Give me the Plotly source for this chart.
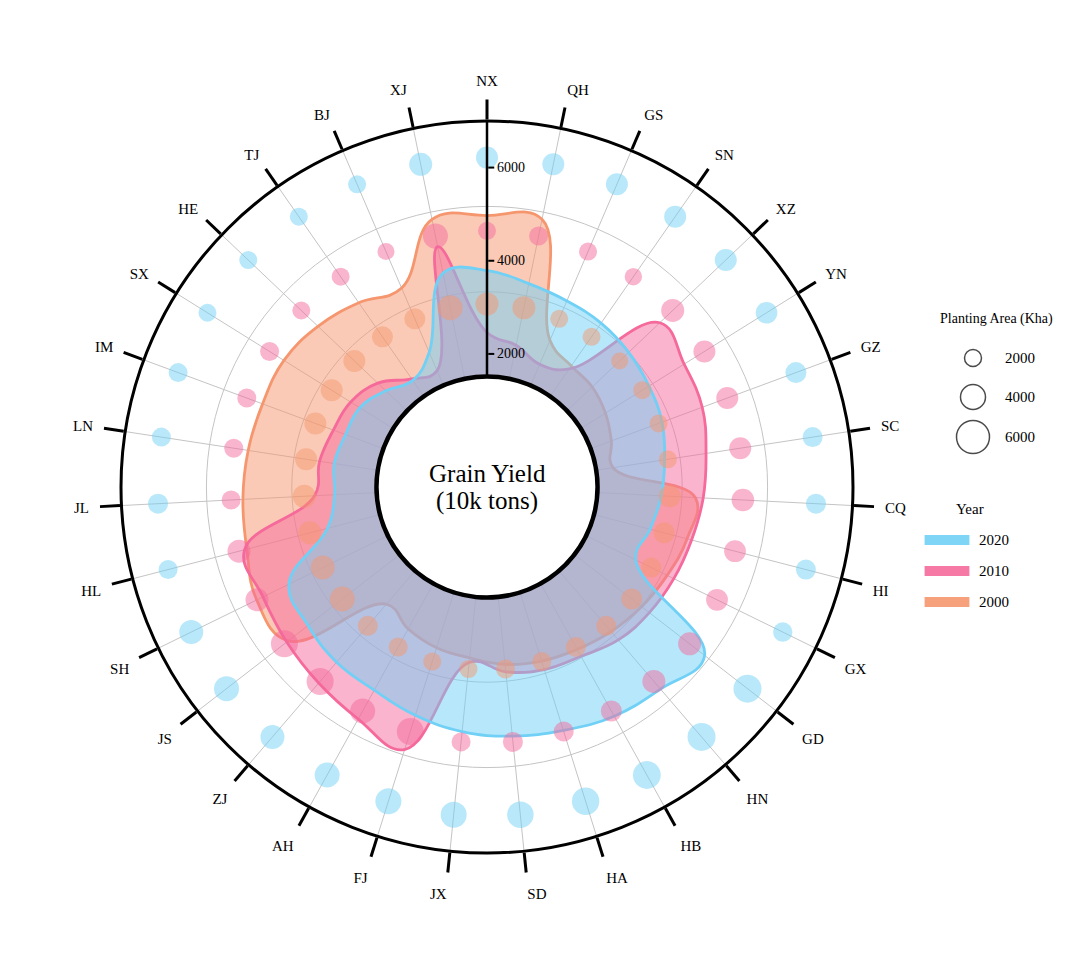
import numpy as np
import plotly.graph_objects as go

provinces = ["NX", "QH", "GS", "SN", "XZ", "YN", "GZ", "SC", "CQ", "HI", "GX",
             "GD", "HN", "HB", "HA", "SD", "JX", "FJ", "AH", "ZJ", "JS", "SH",
             "HL", "JL", "LN", "IM", "SX", "HE", "TJ", "BJ", "XJ"]

# grain yield (10k tons)
yield_2000 = [4970, 5010, 2570, 2310, 2260, 2140, 1990, 1880, 3620, 3580, 3450,
              3340, 3230, 3130, 3060, 2970, 2830, 2760, 2630, 2460, 4540, 4650,
              4470, 4390, 4330, 4280, 4280, 4150, 3960, 3790, 5010]
yield_2010 = [2460, 2250, 2010, 2230, 4260, 4130, 4070, 3900, 3790, 3680, 3610,
              3550, 3470, 3300, 3250, 3130, 2930, 5050, 4840, 4690, 4580, 4500,
              4520, 2850, 2780, 2660, 2590, 2380, 1970, 1860, 4410]
yield_2020 = [3790, 3600, 3490, 3430, 3340, 3240, 3150, 3000, 2890, 2760, 2700,
              5050, 4860, 4770, 4620, 4520, 4420, 4280, 4130, 4100, 4000, 3880,
              2680, 2420, 2460, 2380, 2360, 2140, 1930, 2290, 3830]

# planting area (Kha)
area_2000 = [3500, 3500, 2250, 2250, 2000, 2250, 2250, 2250, 3250, 3000, 2750,
             3000, 2750, 2750, 2500, 2500, 2250, 2250, 2500, 2750, 4000, 3750,
             3500, 3500, 3250, 3250, 3250, 3250, 3000, 3000, 4000]
area_2010 = [2250, 2500, 2250, 2100, 3500, 3250, 3250, 3250, 3400, 3200, 3200,
             3500, 3500, 3000, 2750, 2750, 2500, 4500, 4000, 4500, 4500, 3500,
             3500, 2500, 2500, 2500, 2500, 2250, 2250, 2000, 4000]
area_2020 = [3250, 3250, 3250, 3250, 3250, 3150, 3000, 2750, 2750, 2750, 2600,
             4750, 4750, 4700, 4600, 4400, 4250, 4250, 4000, 3750, 4000, 3750,
             2500, 2750, 2500, 2500, 2250, 2250, 2250, 2250, 3500]

years = ["2020", "2010", "2000"]
legend_areas = [2000, 4000, 6000]
radial_ticks = [2000, 4000, 6000]

R_MIN, R_MAX = 1500, 7000
FONT = "Liberation Serif"

colors = {"2000": (245, 150, 110), "2010": (245, 105, 155), "2020": (112, 208, 245)}


def rgba(c, a):
    return f"rgba({c[0]},{c[1]},{c[2]},{a})"


def bubble(a):
    # diameter in px for a planting area value
    return 9 + np.asarray(a, dtype=float) / 250


def closed(vals):
    return list(vals) + [vals[0]]


theta = closed(provinces)
fig = go.Figure()

# grid rings splitting the radial range in three
for k in (1, 2):
    fig.add_trace(go.Scatterpolar(
        r=[R_MIN + (R_MAX - R_MIN) * k / 3] * len(theta), theta=theta,
        mode="lines", line=dict(color="#c4c4c4", width=1, shape="spline"),
        hoverinfo="skip", showlegend=False))

series = [("2000", yield_2000, area_2000, 2),
          ("2010", yield_2010, area_2010, 4),
          ("2020", yield_2020, area_2020, 6)]

for year, ys, _, _ in series:
    c = colors[year]
    fig.add_trace(go.Scatterpolar(
        r=closed(ys), theta=theta, mode="lines", fill="toself",
        fillcolor=rgba(c, 0.5),
        line=dict(color=rgba(c, 1), width=2.8, shape="spline", smoothing=1.2),
        name=year, hoverinfo="skip", showlegend=False))

for year, _, areas, ring in series:
    c = colors[year]
    fig.add_trace(go.Scatterpolar(
        r=[R_MIN + (R_MAX - R_MIN) * ring / 7] * len(provinces), theta=provinces,
        mode="markers",
        marker=dict(size=bubble(areas), sizemode="diameter", color=rgba(c, 0.7),
                    line=dict(width=0)),
        hoverinfo="skip", showlegend=False))

# white centre with its black border
fig.add_trace(go.Scatterpolar(
    r=[R_MIN + 32] * len(theta), theta=theta, mode="lines", fill="toself",
    fillcolor="white", line=dict(color="black", width=3, shape="spline"),
    hoverinfo="skip", showlegend=False))

# a slightly wider, empty polar frame only carries the province names
fig.add_trace(go.Scatterpolar(
    r=[1] * len(provinces), theta=provinces, mode="none", subplot="polar2",
    hoverinfo="skip", showlegend=False))

# legend drawn in a cartesian layer mapped to screen pixels
size_rows = [358, 397, 437]
year_rows = [540, 571, 602]
fig.add_trace(go.Scatter(
    x=[973] * 3, y=size_rows, mode="markers",
    marker=dict(size=bubble(legend_areas), color="rgba(0,0,0,0)",
                line=dict(color="black", width=1.5)),
    hoverinfo="skip", showlegend=False))
fig.add_trace(go.Scatter(
    x=[947] * 3, y=year_rows, mode="markers",
    marker=dict(symbol="line-ew", size=32,
                line=dict(width=10, color=[rgba(colors[y], 0.9) for y in years])),
    hoverinfo="skip", showlegend=False))

annotations = [
    dict(x=487, y=473, text="Grain Yield", font=dict(size=25)),
    dict(x=487, y=501, text="(10k tons)", font=dict(size=25)),
    dict(x=996, y=319, text="Planting Area (Kha)", font=dict(size=14)),
    dict(x=970, y=509, text="Year", font=dict(size=15)),
]
for v, yy in zip(legend_areas, size_rows):
    annotations.append(dict(x=1003, y=yy, text=str(v), xanchor="left", font=dict(size=15)))
for yr, yy in zip(years, year_rows):
    annotations.append(dict(x=977, y=yy, text=yr, xanchor="left", font=dict(size=15)))
for a in annotations:
    a.update(xref="x", yref="y", showarrow=False)

angular_common = dict(type="category", categoryarray=provinces,
                      direction="clockwise", rotation=90)

# the page adds an 8px body margin; the cartesian ranges absorb it
fig.update_layout(
    width=1080, height=975,
    margin=dict(l=0, r=0, t=0, b=0),
    paper_bgcolor="white", plot_bgcolor="rgba(0,0,0,0)",
    font=dict(family=FONT, color="black"),
    showlegend=False, hovermode=False,
    annotations=annotations,
    xaxis=dict(domain=[0, 1], range=[8, 1088], visible=False),
    yaxis=dict(domain=[0, 1], range=[983, 8], visible=False),
    polar=dict(
        domain=dict(x=[113 / 1080, 845 / 1080], y=[1 - 845 / 975, 1 - 113 / 975]),
        hole=0.3,
        bgcolor="rgba(0,0,0,0)",
        angularaxis=dict(
            **angular_common,
            showline=True, linecolor="black", linewidth=3,
            ticks="outside", ticklen=20, tickwidth=2.5, tickcolor="black",
            showticklabels=False,
            showgrid=True, gridcolor="#c4c4c4", gridwidth=1),
        radialaxis=dict(
            range=[R_MIN, R_MAX], angle=90, side="clockwise", tickangle=90,
            tickvals=radial_ticks, ticks="outside", ticklen=6, tickwidth=2,
            tickcolor="black", showline=True, linewidth=2.5, linecolor="black",
            showgrid=False, tickfont=dict(size=14, family=FONT)),
    ),
    polar2=dict(
        domain=dict(x=[104 / 1080, 854 / 1080], y=[1 - 854 / 975, 1 - 104 / 975]),
        bgcolor="rgba(0,0,0,0)",
        angularaxis=dict(
            **angular_common,
            showline=False, showgrid=False,
            ticks="outside", ticklen=20, tickcolor="rgba(0,0,0,0)",
            tickfont=dict(size=15, family=FONT, color="black")),
        radialaxis=dict(visible=False, range=[0, 2]),
    ),
)

fig.write_html("out.html")
